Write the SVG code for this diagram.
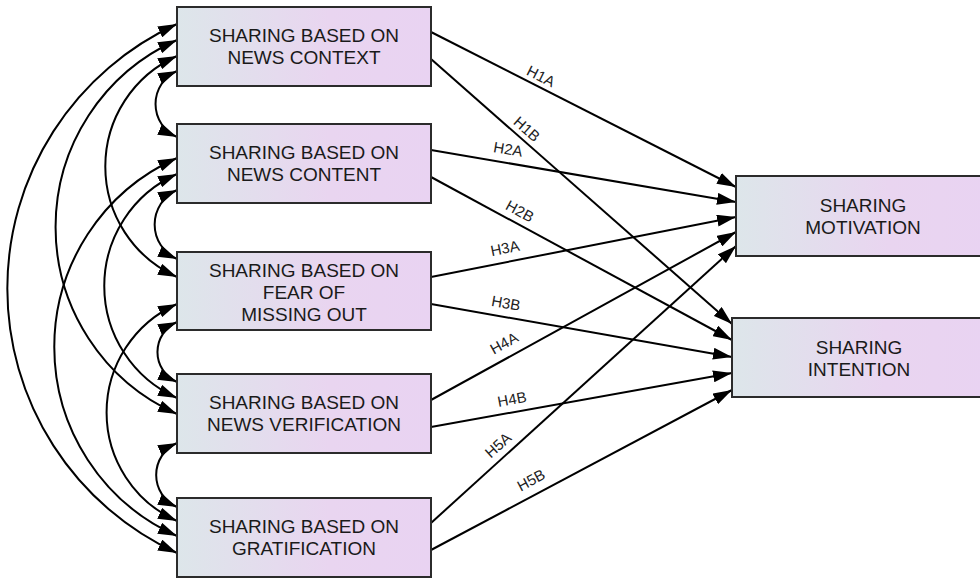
<svg xmlns="http://www.w3.org/2000/svg" width="980" height="578" viewBox="0 0 980 578">
<defs>
  <linearGradient id="boxfill" x1="0" y1="0" x2="1" y2="0">
    <stop offset="0" stop-color="#dde6ea"/>
    <stop offset="0.6" stop-color="#e9d5f0"/>
    <stop offset="1" stop-color="#e9d3f2"/>
  </linearGradient>
  <marker id="arrow" markerUnits="userSpaceOnUse" markerWidth="19" markerHeight="12" refX="19" refY="6" orient="auto-start-reverse" viewBox="0 0 19 12">
    <path d="M0,0 L19,6 L0,12 Z" fill="#000"/>
  </marker>
  <style>
    .box { fill: url(#boxfill); stroke: #2b2b2b; stroke-width: 2; }
    .txt { font-family: "Liberation Sans", Arial, sans-serif; font-size: 19px; fill: #1a1a1a; text-anchor: middle; }
    .lbl { font-family: "Liberation Sans", Arial, sans-serif; font-size: 15px; fill: #222; text-anchor: middle; }
    .edge { fill: none; stroke: #000; stroke-width: 2; marker-end: url(#arrow); }
    .cov { fill: none; stroke: #000; stroke-width: 2; marker-start: url(#arrow); marker-end: url(#arrow); }
  </style>
</defs>
<rect width="980" height="578" fill="#fff"/>

<g id="connectors">
  <!-- covariances (left arcs) -->
  <path class="cov" d="M177,71 A36.1,36.1 0 0 0 177,137"/>
  <path class="cov" d="M177,190 A37.8,37.8 0 0 0 177,259"/>
  <path class="cov" d="M177,322 A32.8,32.8 0 0 0 177,382"/>
  <path class="cov" d="M177,443 A35,35 0 0 0 177,507"/>
  <path class="cov" d="M177,56 A121,121 0 0 0 177,277"/>
  <path class="cov" d="M177,174 A122.6,122.6 0 0 0 177,398"/>
  <path class="cov" d="M177,304 A118.8,118.8 0 0 0 177,521"/>
  <path class="cov" d="M177,40 A204.7,204.7 0 0 0 177,414"/>
  <path class="cov" d="M177,158 A206.9,206.9 0 0 0 177,536"/>
  <path class="cov" d="M177,24 A291,291 0 0 0 177,553"/>

  <!-- paths to outcomes -->
  <line class="edge" x1="431" y1="32" x2="736" y2="187"/>
  <line class="edge" x1="431" y1="59" x2="732" y2="324"/>
  <line class="edge" x1="431" y1="150" x2="736" y2="202"/>
  <line class="edge" x1="431" y1="177" x2="732" y2="340"/>
  <line class="edge" x1="431" y1="277" x2="736" y2="217"/>
  <line class="edge" x1="431" y1="304" x2="732" y2="357"/>
  <line class="edge" x1="431" y1="400" x2="736" y2="232"/>
  <line class="edge" x1="431" y1="427" x2="732" y2="373"/>
  <line class="edge" x1="431" y1="523" x2="736" y2="246"/>
  <line class="edge" x1="431" y1="550" x2="732" y2="390"/>

  <!-- labels -->
  <text class="lbl" transform="translate(541,76) rotate(26.8)" y="5.4">H1A</text>
  <text class="lbl" transform="translate(527,129) rotate(41.6)" y="5.4">H1B</text>
  <text class="lbl" transform="translate(508,149) rotate(9.5)" y="5.4">H2A</text>
  <text class="lbl" transform="translate(520,211) rotate(28.6)" y="5.4">H2B</text>
  <text class="lbl" transform="translate(505,248) rotate(-11.3)" y="5.4">H3A</text>
  <text class="lbl" transform="translate(506,303) rotate(10)" y="5.4">H3B</text>
  <text class="lbl" transform="translate(504,343) rotate(-29)" y="5.4">H4A</text>
  <text class="lbl" transform="translate(512,399) rotate(-10.4)" y="5.4">H4B</text>
  <text class="lbl" transform="translate(498,445) rotate(-42.2)" y="5.4">H5A</text>
  <text class="lbl" transform="translate(531,480) rotate(-28.3)" y="5.4">H5B</text>
</g>

<g id="context">
  <rect class="box" x="177" y="7" width="254" height="79"/>
  <text class="txt" x="304" y="42">SHARING BASED ON</text>
  <text class="txt" x="304" y="64">NEWS CONTEXT</text>
</g>
<g id="content">
  <rect class="box" x="177" y="124" width="254" height="79"/>
  <text class="txt" x="304" y="159">SHARING BASED ON</text>
  <text class="txt" x="304" y="181">NEWS CONTENT</text>
</g>
<g id="fomo">
  <rect class="box" x="177" y="252" width="254" height="78"/>
  <text class="txt" x="304" y="277">SHARING BASED ON</text>
  <text class="txt" x="304" y="299">FEAR OF</text>
  <text class="txt" x="304" y="321">MISSING OUT</text>
</g>
<g id="verification">
  <rect class="box" x="177" y="374" width="254" height="79"/>
  <text class="txt" x="304" y="409">SHARING BASED ON</text>
  <text class="txt" x="304" y="431">NEWS VERIFICATION</text>
</g>
<g id="gratification">
  <rect class="box" x="177" y="498" width="254" height="79"/>
  <text class="txt" x="304" y="533">SHARING BASED ON</text>
  <text class="txt" x="304" y="555">GRATIFICATION</text>
</g>
<g id="motivation">
  <rect class="box" x="736" y="176" width="254" height="80"/>
  <text class="txt" x="863" y="212">SHARING</text>
  <text class="txt" x="863" y="234">MOTIVATION</text>
</g>
<g id="intention">
  <rect class="box" x="732" y="318" width="254" height="79"/>
  <text class="txt" x="859" y="354">SHARING</text>
  <text class="txt" x="859" y="376">INTENTION</text>
</g>
</svg>
